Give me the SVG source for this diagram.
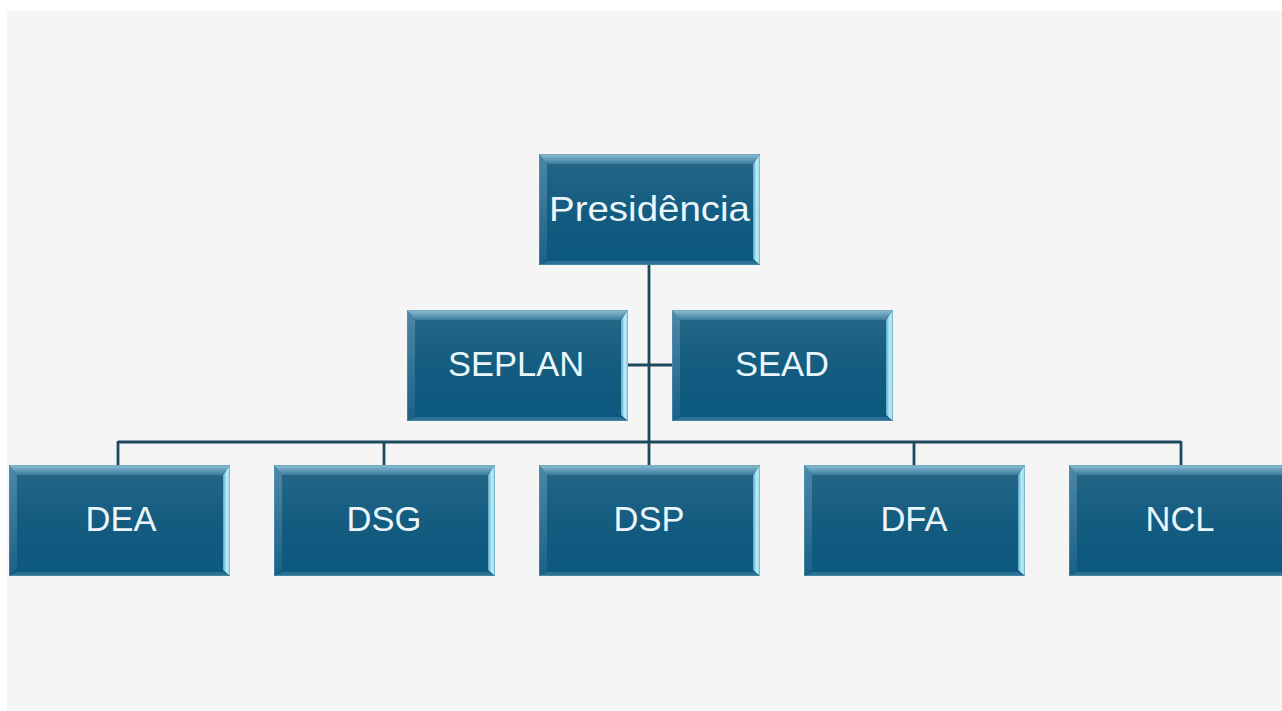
<svg xmlns="http://www.w3.org/2000/svg" width="1282" height="711" viewBox="0 0 1282 711">
  <style>
    .lbl { font-family: "Liberation Sans", Arial, sans-serif; font-size: 34.5px; fill: #eaf6fa; text-anchor: middle; }
    .conn { stroke: #1d4a60; fill: none; stroke-width: 2.8; }
  </style>
  <defs>
    <linearGradient id="face" x1="0" y1="0" x2="0" y2="1">
      <stop offset="0" stop-color="#276889"/>
      <stop offset="0.5" stop-color="#145c80"/>
      <stop offset="1" stop-color="#0c587e"/>
    </linearGradient>
    <linearGradient id="topb" x1="0" y1="0" x2="0" y2="1">
      <stop offset="0" stop-color="#8ebfd4"/>
      <stop offset="1" stop-color="#3b7c9e"/>
    </linearGradient>
    <linearGradient id="leftb" x1="0" y1="0" x2="0" y2="1">
      <stop offset="0" stop-color="#4d88a7"/>
      <stop offset="1" stop-color="#1a6186"/>
    </linearGradient>
    <linearGradient id="rightb" x1="0" y1="0" x2="1" y2="0">
      <stop offset="0" stop-color="#5aa9c8"/>
      <stop offset="0.5" stop-color="#b6ecf7"/>
      <stop offset="1" stop-color="#9cd9ec"/>
    </linearGradient>
    <symbol id="box" width="221" height="111" viewBox="0 0 221 111" overflow="visible">
      <rect x="0" y="0" width="221" height="111" fill="url(#face)"/>
      <polygon points="0,0 221,0 213,10 8,10" fill="url(#topb)"/>
      <polygon points="0,0 8,10 8,105 0,111" fill="url(#leftb)"/>
      <polygon points="221,0 221,111 214,105 214,10" fill="url(#rightb)"/>
      <polygon points="0,111 221,111 214,107 8,107" fill="#2c7093"/>
      <rect x="0.5" y="0.5" width="220" height="110" fill="none" stroke="#5e97b3" stroke-width="1" opacity="0.5"/>
    </symbol>
  </defs>

  <rect x="0" y="0" width="1282" height="711" fill="#ffffff"/>
  <rect x="7" y="11" width="1275" height="700" fill="#f5f5f5"/>

  <g id="connectors">
    <line class="conn" x1="649" y1="265" x2="649" y2="465" stroke-width="3"/>
    <line class="conn" x1="628" y1="365" x2="673" y2="365"/>
    <line class="conn" x1="118" y1="442" x2="1181" y2="442"/>
    <line class="conn" x1="118" y1="441" x2="118" y2="465"/>
    <line class="conn" x1="384" y1="441" x2="384" y2="465"/>
    <line class="conn" x1="914" y1="441" x2="914" y2="465"/>
    <line class="conn" x1="1181" y1="441" x2="1181" y2="465"/>
  </g>

  <g id="presidencia">
    <use href="#box" x="539" y="154"/>
    <text class="lbl" x="649.5" y="221" textLength="201" lengthAdjust="spacingAndGlyphs">Presidência</text>
  </g>
  <g id="seplan">
    <use href="#box" x="407" y="310"/>
    <text class="lbl" x="516" y="376">SEPLAN</text>
  </g>
  <g id="sead">
    <use href="#box" x="672" y="310"/>
    <text class="lbl" x="782" y="376">SEAD</text>
  </g>
  <g id="dea">
    <use href="#box" x="9" y="465"/>
    <text class="lbl" x="121" y="531">DEA</text>
  </g>
  <g id="dsg">
    <use href="#box" x="274" y="465"/>
    <text class="lbl" x="384" y="531">DSG</text>
  </g>
  <g id="dsp">
    <use href="#box" x="539" y="465"/>
    <text class="lbl" x="649" y="531">DSP</text>
  </g>
  <g id="dfa">
    <use href="#box" x="804" y="465"/>
    <text class="lbl" x="914" y="531">DFA</text>
  </g>
  <g id="ncl">
    <use href="#box" x="1069" y="465"/>
    <text class="lbl" x="1180" y="531">NCL</text>
  </g>
</svg>
